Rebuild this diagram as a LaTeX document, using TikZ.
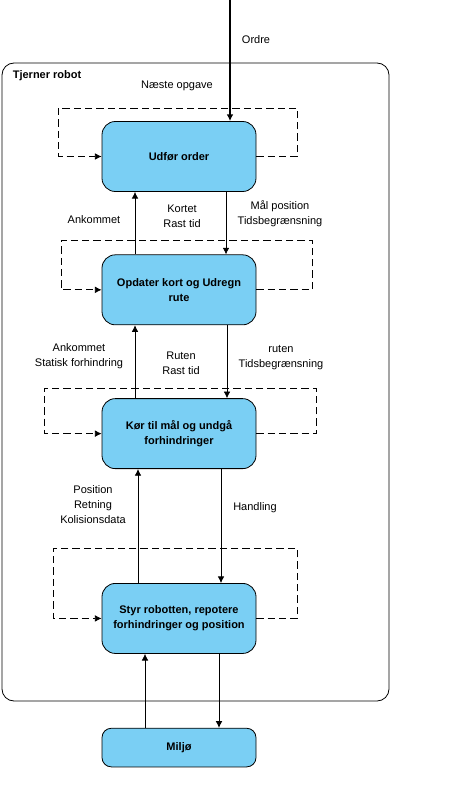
\documentclass[tikz,border=0pt]{standalone}
\usepackage{fontspec}
\setmainfont{Liberation Sans}
\usetikzlibrary{positioning,arrows.meta}
\definecolor{boxblue}{HTML}{7ACFF4}

\begin{document}
\begin{tikzpicture}[x=0.75pt,y=-0.75pt,->,>={Latex[length=5pt,width=5pt]},semithick,
      font=\fontsize{8.25}{11.25}\selectfont,
      main node/.style={rectangle,rounded corners=10pt,draw,fill=boxblue,
        minimum width=115.5pt,minimum height=52.5pt,align=center,
        font=\fontsize{8.25}{11.25}\selectfont\bfseries},
      label node/.style={align=center,inner sep=1pt},
      loop line/.style={dashed,dash pattern=on 5.5pt off 3pt}]
    \useasboundingbox (0,0) rectangle (449,787);
    % frame round the robot
    \draw[-,rounded corners=9pt] (2,63) rectangle (389,701);
    \node[anchor=west,font=\fontsize{8.25}{11.25}\selectfont\bfseries] (robot) at (8,76) {Tjerner robot};

    \node[main node] (udfor) at (179,156.5) {Udfør order};
    \node[main node] (opdater) [below=46.9pt of udfor] {Opdater kort og Udregn\\rute};
    \node[main node] (kor) [below=54.75pt of opdater] {Kør til mål og undgå\\forhindringer};
    \node[main node] (styr) [below=85.5pt of kor] {Styr robotten, repotere\\forhindringer og position};
    \node[main node,minimum height=29pt,rounded corners=7pt] (miljo) [below=55.5pt of styr] {Miljø};

    \coordinate (ordre) at (230,0);
    \draw[line width=1.5pt] (ordre) -- ([xshift=38.25pt]udfor.north);

    \draw ([xshift=-33pt]opdater.north) -- ([xshift=-33pt]udfor.south);
    \draw ([xshift=35.25pt]udfor.south) -- ([xshift=35.25pt]opdater.north);
    \draw ([xshift=-33pt]kor.north) -- ([xshift=-33pt]opdater.south);
    \draw ([xshift=36pt]opdater.south) -- ([xshift=36pt]kor.north);
    \draw ([xshift=-30.75pt]styr.north) -- ([xshift=-30.75pt]kor.south);
    \draw ([xshift=31.5pt]kor.south) -- ([xshift=31.5pt]styr.north);
    \draw ([xshift=-25.5pt]miljo.north) -- ([xshift=-25.5pt]styr.south);
    \draw ([xshift=30pt]styr.south) -- ([xshift=30pt]miljo.north);

    % dashed loops
    \draw[loop line] (udfor.east) -- ++(41,0) -- ++(0,-48.5) -- ++(-239,0) |- (udfor.west);
    \draw[loop line] (opdater.east) -- ++(56,0) -- ++(0,-49.5) -- ++(-251,0) |- (opdater.west);
    \draw[loop line] (kor.east) -- ++(60,0) -- ++(0,-45.5) -- ++(-272,0) |- (kor.west);
    \draw[loop line] (styr.east) -- ++(41,0) -- ++(0,-70) -- ++(-244,0) |- (styr.west);

    \node[label node] (l-ordre) at (256,40) {Ordre};
    \node[label node] (l-naeste) at (177,86) {Næste opgave};
    \node[label node] (l-ank1) at (94,220) {Ankommet};
    \node[label node] (l-kortet) at (182,216) {Kortet\\Rast tid};
    \node[label node] (l-maal) at (280,214) {Mål position\\Tidsbegrænsning};
    \node[label node] (l-ank2) at (79,356) {Ankommet\\Statisk forhindring};
    \node[label node] (l-ruten1) at (181,363) {Ruten\\Rast tid};
    \node[label node] (l-ruten2) at (281,358) {ruten\\Tidsbegrænsning};
    \node[label node] (l-pos) at (93,505) {Position\\Retning\\Kolisionsdata};
    \node[label node] (l-handling) at (255,508) {Handling};
  \end{tikzpicture}
\end{document}
